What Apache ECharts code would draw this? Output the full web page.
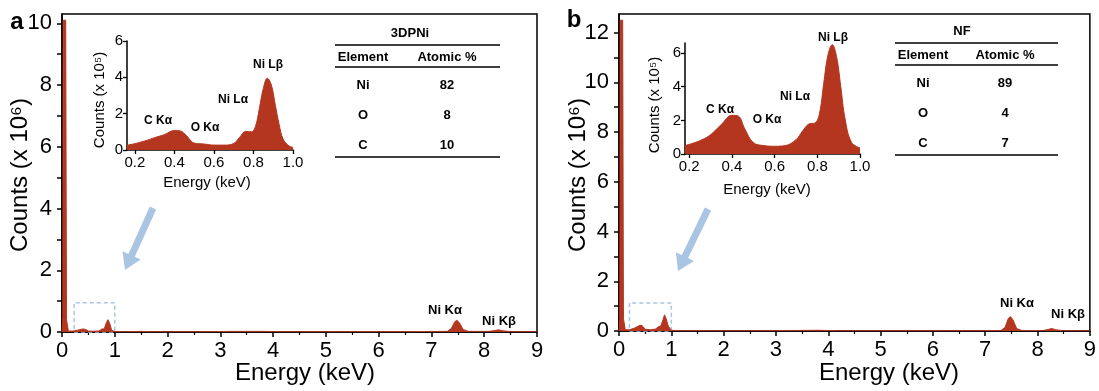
<!DOCTYPE html>
<html><head><meta charset="utf-8">
<script src="https://cdn.jsdelivr.net/npm/echarts@6/dist/echarts.min.js"></script>
<style>html,body{margin:0;padding:0;background:#fff}#c{width:1099px;height:391px}</style>
</head><body><div id="c"></div>
<script>
// ---- Data ----
const energyA = [0, 0.015, 0.025, 0.07, 0.085, 0.12, 0.2, 0.3, 0.4, 0.45, 0.5, 0.6, 0.7, 0.76, 0.8, 0.84, 0.87, 0.9, 0.94, 1.0, 1.2, 1.5, 1.7, 2.5, 3.3, 3.8, 4.2, 6.7, 7.3, 7.38, 7.44, 7.48, 7.53, 7.6, 7.7, 8.1, 8.2, 8.27, 8.35, 8.5, 9.0];
const countsA = [0, 0.5, 10.1, 10.1, 0.4, 0.03, 0.03, 0.06, 0.1, 0.08, 0.03, 0.025, 0.035, 0.1, 0.1, 0.3, 0.4, 0.3, 0.06, 0.015, 0.01, 0.02, 0.01, 0.01, 0.02, 0.02, 0.01, 0.015, 0.02, 0.12, 0.33, 0.38, 0.3, 0.08, 0.02, 0.02, 0.05, 0.07, 0.04, 0.01, 0.01];
const energyB = [0, 0.015, 0.025, 0.07, 0.085, 0.12, 0.2, 0.3, 0.4, 0.44, 0.5, 0.6, 0.7, 0.76, 0.8, 0.84, 0.87, 0.9, 0.94, 1.0, 1.2, 1.5, 1.7, 2.5, 3.3, 3.8, 4.2, 6.7, 7.3, 7.38, 7.44, 7.48, 7.53, 7.6, 7.7, 8.1, 8.2, 8.27, 8.35, 8.5, 9.0];
const countsB = [0, 0.5, 12.5, 12.5, 0.5, 0.05, 0.05, 0.12, 0.23, 0.22, 0.07, 0.05, 0.08, 0.18, 0.2, 0.45, 0.65, 0.5, 0.2, 0.03, 0.01, 0.02, 0.01, 0.01, 0.02, 0.03, 0.01, 0.015, 0.02, 0.15, 0.5, 0.58, 0.45, 0.1, 0.02, 0.02, 0.06, 0.1, 0.05, 0.01, 0.01];
const insetEnergyA = [0.16, 0.2, 0.25, 0.3, 0.35, 0.4, 0.43, 0.46, 0.5, 0.55, 0.6, 0.65, 0.7, 0.73, 0.76, 0.79, 0.81, 0.83, 0.85, 0.87, 0.89, 0.91, 0.93, 0.95, 0.98, 1.0];
const insetCountsA = [0.27, 0.35, 0.5, 0.68, 0.85, 1.07, 1.05, 0.8, 0.38, 0.33, 0.27, 0.27, 0.36, 0.7, 1.02, 1.0, 1.3, 2.3, 3.4, 3.95, 3.6, 2.5, 1.4, 0.6, 0.22, 0.15];
const insetEnergyB = [0.18, 0.22, 0.26, 0.3, 0.35, 0.4, 0.43, 0.46, 0.5, 0.55, 0.6, 0.65, 0.7, 0.73, 0.76, 0.79, 0.81, 0.83, 0.85, 0.87, 0.89, 0.91, 0.93, 0.96, 1.0];
const insetCountsB = [0.5, 0.65, 0.85, 1.15, 1.75, 2.3, 2.25, 1.5, 0.68, 0.5, 0.46, 0.5, 0.85, 1.35, 1.78, 1.85, 2.4, 4.2, 5.9, 6.5, 5.8, 4.0, 2.1, 0.7, 0.36];
const mainXTicks = [0, 1, 2, 3, 4, 5, 6, 7, 8, 9];
const yLabelsA = [0, 2, 4, 6, 8, 10];
const yLabelsB = [0, 2, 4, 6, 8, 10, 12];
const insetXTicks = [0.2, 0.4, 0.6, 0.8, 1.0];
const insetYTicks = [0, 2, 4, 6];
const tableHeader = ['Element', 'Atomic %'];
const tableElements = ['Ni', 'O', 'C'];
const tableA = [82, 8, 10];
const tableB = [89, 4, 7];
const zoomBoxA = [[0.23, 0], [1.0, 0.95]];
const zoomBoxB = [[0.2, 0], [1.0, 1.13]];

// ---- Styles ----
const RED = '#b5361f';
const BLUE = '#a9c5e3';
const FONT = '"Liberation Sans", Arial, sans-serif';
const pairs = (xs, ys) => xs.map((x, i) => [x, ys[i]]);
const range = (a, b) => { const r = []; for (let i = a; i <= b; i++) r.push(i); return r; };

function mainX(gi) {
  return {
    type: 'value', gridIndex: gi, min: 0, max: 9, interval: 1,
    axisLine: { lineStyle: { color: '#000', width: 1.5 } },
    axisTick: { length: 5, lineStyle: { color: '#000', width: 1.5 } },
    minorTick: { show: true, splitNumber: 2, length: 3, lineStyle: { color: '#000', width: 1.2 } },
    axisLabel: { color: '#000', fontSize: 22, fontFamily: FONT, margin: 8 },
    splitLine: { show: false }
  };
}
function mainY(gi, max, labels) {
  return {
    type: 'value', gridIndex: gi, min: 0, max: max,
    axisLine: { lineStyle: { color: '#000', width: 1.5 } },
    axisTick: { length: 5, customValues: range(0, Math.floor(max)), lineStyle: { color: '#000', width: 1.5 } },
    axisLabel: { color: '#000', fontSize: 22, fontFamily: FONT, margin: 10, customValues: labels },
    splitLine: { show: false }
  };
}
function insetX(gi, min) {
  return {
    type: 'value', gridIndex: gi, min: min, max: 1.0,
    axisLine: { lineStyle: { color: '#000', width: 1.5 } },
    axisTick: { length: 4, customValues: insetXTicks, lineStyle: { color: '#000', width: 1.3 } },
    axisLabel: { color: '#000', fontSize: 15, fontFamily: FONT, margin: 5, customValues: insetXTicks, formatter: v => v.toFixed(1) },
    splitLine: { show: false }
  };
}
function insetY(gi, max) {
  return {
    type: 'value', gridIndex: gi, min: 0, max: max,
    axisLine: { lineStyle: { color: '#000', width: 1.5 } },
    axisTick: { length: 4, customValues: insetYTicks, lineStyle: { color: '#000', width: 1.3 } },
    axisLabel: { color: '#000', fontSize: 15, fontFamily: FONT, margin: 4, customValues: insetYTicks },
    splitLine: { show: false }
  };
}
function areaSeries(xi, yi, data, smooth, box) {
  const s = {
    type: 'line', xAxisIndex: xi, yAxisIndex: yi, data: data, symbol: 'none', smooth: smooth,
    lineStyle: { color: RED, width: 1 }, areaStyle: { color: RED, opacity: 1 }, z: 3, silent: true
  };
  if (box) {
    s.markArea = { silent: true, itemStyle: { color: 'rgba(0,0,0,0)', borderColor: BLUE, borderWidth: 1.5, borderType: [4, 3] },
      data: [[{ coord: box[0] }, { coord: box[1] }]] };
  }
  return s;
}

// ---- Graphic helpers ----
const g = [];
function txt(x, y, t, size, opts) {
  g.push(Object.assign({ type: 'text', x: x, y: y, style: { text: t, fill: '#000', font: (opts && opts.bold ? 'bold ' : '') + size + 'px ' + FONT, textAlign: 'center', textVerticalAlign: 'middle' } }, opts && opts.rot ? { rotation: opts.rot } : {}));
}
function hline(x1, x2, y) {
  g.push({ type: 'line', shape: { x1: x1, y1: y, x2: x2, y2: y }, style: { stroke: '#000', lineWidth: 1.5 } });
}
function arrow(sx, sy, tx, ty) {
  const dx = tx - sx, dy = ty - sy, L = Math.hypot(dx, dy), ux = dx / L, uy = dy / L, px = -uy, py = ux;
  const bx = tx - 16 * ux, by = ty - 16 * uy;
  g.push({ type: 'line', shape: { x1: sx, y1: sy, x2: bx + ux, y2: by + uy }, style: { stroke: BLUE, lineWidth: 7 } });
  g.push({ type: 'polygon', shape: { points: [[tx, ty], [bx + 10 * px, by + 10 * py], [bx - 10 * px, by - 10 * py]] }, style: { fill: BLUE } });
}
function table(cx, xl, xr, title, yTop, values, colE, colA) {
  txt(cx, yTop - 12, title, 13, { bold: true });
  hline(xl, xr, yTop);
  txt(colE, yTop + 12, tableHeader[0], 13, { bold: true });
  txt(colA, yTop + 12, tableHeader[1], 13, { bold: true });
  hline(xl, xr, yTop + 22);
  tableElements.forEach((el, i) => {
    txt(colE, yTop + 40 + i * 30, el, 13, { bold: true });
    txt(colA, yTop + 40 + i * 30, String(values[i]), 13, { bold: true });
  });
  hline(xl, xr, yTop + 112);
}

// Panel a texts
txt(17, 22, 'a', 24, { bold: true });
txt(20, 175, 'Counts (x 10\u2076)', 24, { rot: Math.PI / 2 });
txt(305, 373, 'Energy (keV)', 24);
txt(100, 100, 'Counts (x 10\u2075)', 15, { rot: Math.PI / 2 });
txt(207, 183, 'Energy (keV)', 15);
txt(158, 121, 'C K\u03b1', 12, { bold: true });
txt(205, 128, 'O K\u03b1', 12, { bold: true });
txt(233, 100, 'Ni L\u03b1', 12, { bold: true });
txt(268, 65, 'Ni L\u03b2', 12, { bold: true });
txt(445, 310, 'Ni K\u03b1', 13, { bold: true });
txt(499, 321, 'Ni K\u03b2', 13, { bold: true });
table(410, 335, 500, '3DPNi', 45, tableA, 363, 447);
arrow(153, 208, 125, 270);

// Panel b texts
txt(574, 20, 'b', 24, { bold: true });
txt(578, 175, 'Counts (x 10\u2076)', 24, { rot: Math.PI / 2 });
txt(889, 373, 'Energy (keV)', 24);
txt(655, 105, 'Counts (x 10\u2075)', 15, { rot: Math.PI / 2 });
txt(767, 190, 'Energy (keV)', 15);
txt(720, 110, 'C K\u03b1', 12, { bold: true });
txt(767, 120, 'O K\u03b1', 12, { bold: true });
txt(795, 97, 'Ni L\u03b1', 12, { bold: true });
txt(833, 38, 'Ni L\u03b2', 12, { bold: true });
txt(1017, 303, 'Ni K\u03b1', 13, { bold: true });
txt(1068, 314, 'Ni K\u03b2', 13, { bold: true });
table(962, 895, 1058, 'NF', 43, tableB, 923, 1005);
arrow(708, 209, 678, 271);

const option = {
  backgroundColor: '#fff',
  animation: false,
  grid: [
    { left: 62, top: 14, width: 475, height: 318, show: true, borderColor: '#000', borderWidth: 1.5, backgroundColor: 'transparent' },
    { left: 619, top: 14, width: 477, height: 317, show: true, borderColor: '#000', borderWidth: 1.5, backgroundColor: 'transparent' },
    { left: 127, top: 41, width: 166, height: 109 },
    { left: 685, top: 43, width: 175, height: 111 }
  ],
  xAxis: [mainX(0), mainX(1), insetX(2, 0.16), insetX(3, 0.18)],
  yAxis: [mainY(0, 10.3, yLabelsA), mainY(1, 12.75, yLabelsB), insetY(2, 6), insetY(3, 6.6)],
  series: [
    areaSeries(0, 0, pairs(energyA, countsA), false, zoomBoxA),
    areaSeries(1, 1, pairs(energyB, countsB), false, zoomBoxB),
    areaSeries(2, 2, pairs(insetEnergyA, insetCountsA), 0.4),
    areaSeries(3, 3, pairs(insetEnergyB, insetCountsB), 0.4)
  ],
  graphic: g
};
const chart = echarts.init(document.getElementById('c'), null, { renderer: 'canvas' });
chart.setOption(option);
</script></body></html>
